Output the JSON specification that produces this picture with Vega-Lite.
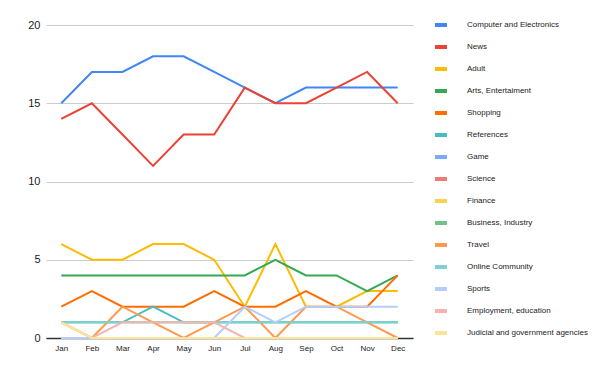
{
  "$schema": "https://vega.github.io/schema/vega-lite/v6.json",
  "autosize": "none",
  "width": 367,
  "height": 313,
  "padding": {"left": 46, "top": 25, "right": 187, "bottom": 33},
  "background": "white",
  "config": {"view": {"stroke": null}, "font": "Liberation Sans"},
  "data": {"values": [
    {"m":"Jan","c":"Computer and Electronics","v":15},{"m":"Feb","c":"Computer and Electronics","v":17},{"m":"Mar","c":"Computer and Electronics","v":17},{"m":"Apr","c":"Computer and Electronics","v":18},{"m":"May","c":"Computer and Electronics","v":18},{"m":"Jun","c":"Computer and Electronics","v":17},{"m":"Jul","c":"Computer and Electronics","v":16},{"m":"Aug","c":"Computer and Electronics","v":15},{"m":"Sep","c":"Computer and Electronics","v":16},{"m":"Oct","c":"Computer and Electronics","v":16},{"m":"Nov","c":"Computer and Electronics","v":16},{"m":"Dec","c":"Computer and Electronics","v":16},
    {"m":"Jan","c":"News","v":14},{"m":"Feb","c":"News","v":15},{"m":"Mar","c":"News","v":13},{"m":"Apr","c":"News","v":11},{"m":"May","c":"News","v":13},{"m":"Jun","c":"News","v":13},{"m":"Jul","c":"News","v":16},{"m":"Aug","c":"News","v":15},{"m":"Sep","c":"News","v":15},{"m":"Oct","c":"News","v":16},{"m":"Nov","c":"News","v":17},{"m":"Dec","c":"News","v":15},
    {"m":"Jan","c":"Adult","v":6},{"m":"Feb","c":"Adult","v":5},{"m":"Mar","c":"Adult","v":5},{"m":"Apr","c":"Adult","v":6},{"m":"May","c":"Adult","v":6},{"m":"Jun","c":"Adult","v":5},{"m":"Jul","c":"Adult","v":2},{"m":"Aug","c":"Adult","v":6},{"m":"Sep","c":"Adult","v":2},{"m":"Oct","c":"Adult","v":2},{"m":"Nov","c":"Adult","v":3},{"m":"Dec","c":"Adult","v":3},
    {"m":"Jan","c":"Arts, Entertaiment","v":4},{"m":"Feb","c":"Arts, Entertaiment","v":4},{"m":"Mar","c":"Arts, Entertaiment","v":4},{"m":"Apr","c":"Arts, Entertaiment","v":4},{"m":"May","c":"Arts, Entertaiment","v":4},{"m":"Jun","c":"Arts, Entertaiment","v":4},{"m":"Jul","c":"Arts, Entertaiment","v":4},{"m":"Aug","c":"Arts, Entertaiment","v":5},{"m":"Sep","c":"Arts, Entertaiment","v":4},{"m":"Oct","c":"Arts, Entertaiment","v":4},{"m":"Nov","c":"Arts, Entertaiment","v":3},{"m":"Dec","c":"Arts, Entertaiment","v":4},
    {"m":"Jan","c":"Shopping","v":2},{"m":"Feb","c":"Shopping","v":3},{"m":"Mar","c":"Shopping","v":2},{"m":"Apr","c":"Shopping","v":2},{"m":"May","c":"Shopping","v":2},{"m":"Jun","c":"Shopping","v":3},{"m":"Jul","c":"Shopping","v":2},{"m":"Aug","c":"Shopping","v":2},{"m":"Sep","c":"Shopping","v":3},{"m":"Oct","c":"Shopping","v":2},{"m":"Nov","c":"Shopping","v":2},{"m":"Dec","c":"Shopping","v":4},
    {"m":"Jan","c":"References","v":1},{"m":"Feb","c":"References","v":1},{"m":"Mar","c":"References","v":1},{"m":"Apr","c":"References","v":2},{"m":"May","c":"References","v":1},{"m":"Jun","c":"References","v":1},{"m":"Jul","c":"References","v":1},{"m":"Aug","c":"References","v":1},{"m":"Sep","c":"References","v":1},{"m":"Oct","c":"References","v":1},{"m":"Nov","c":"References","v":1},{"m":"Dec","c":"References","v":1},
    {"m":"Jan","c":"Game","v":0},{"m":"Feb","c":"Game","v":0},{"m":"Mar","c":"Game","v":0},{"m":"Apr","c":"Game","v":0},{"m":"May","c":"Game","v":0},{"m":"Jun","c":"Game","v":0},{"m":"Jul","c":"Game","v":0},{"m":"Aug","c":"Game","v":0},{"m":"Sep","c":"Game","v":0},{"m":"Oct","c":"Game","v":0},{"m":"Nov","c":"Game","v":0},{"m":"Dec","c":"Game","v":0},
    {"m":"Jan","c":"Science","v":0},{"m":"Feb","c":"Science","v":0},{"m":"Mar","c":"Science","v":0},{"m":"Apr","c":"Science","v":0},{"m":"May","c":"Science","v":0},{"m":"Jun","c":"Science","v":0},{"m":"Jul","c":"Science","v":0},{"m":"Aug","c":"Science","v":0},{"m":"Sep","c":"Science","v":0},{"m":"Oct","c":"Science","v":0},{"m":"Nov","c":"Science","v":0},{"m":"Dec","c":"Science","v":0},
    {"m":"Jan","c":"Finance","v":0},{"m":"Feb","c":"Finance","v":0},{"m":"Mar","c":"Finance","v":0},{"m":"Apr","c":"Finance","v":0},{"m":"May","c":"Finance","v":0},{"m":"Jun","c":"Finance","v":0},{"m":"Jul","c":"Finance","v":0},{"m":"Aug","c":"Finance","v":0},{"m":"Sep","c":"Finance","v":0},{"m":"Oct","c":"Finance","v":0},{"m":"Nov","c":"Finance","v":0},{"m":"Dec","c":"Finance","v":0},
    {"m":"Jan","c":"Business, Industry","v":1},{"m":"Feb","c":"Business, Industry","v":1},{"m":"Mar","c":"Business, Industry","v":1},{"m":"Apr","c":"Business, Industry","v":1},{"m":"May","c":"Business, Industry","v":1},{"m":"Jun","c":"Business, Industry","v":1},{"m":"Jul","c":"Business, Industry","v":1},{"m":"Aug","c":"Business, Industry","v":1},{"m":"Sep","c":"Business, Industry","v":1},{"m":"Oct","c":"Business, Industry","v":1},{"m":"Nov","c":"Business, Industry","v":1},{"m":"Dec","c":"Business, Industry","v":1},
    {"m":"Jan","c":"Travel","v":1},{"m":"Feb","c":"Travel","v":0},{"m":"Mar","c":"Travel","v":2},{"m":"Apr","c":"Travel","v":1},{"m":"May","c":"Travel","v":0},{"m":"Jun","c":"Travel","v":1},{"m":"Jul","c":"Travel","v":2},{"m":"Aug","c":"Travel","v":0},{"m":"Sep","c":"Travel","v":2},{"m":"Oct","c":"Travel","v":2},{"m":"Nov","c":"Travel","v":1},{"m":"Dec","c":"Travel","v":0},
    {"m":"Jan","c":"Online Community","v":1},{"m":"Feb","c":"Online Community","v":1},{"m":"Mar","c":"Online Community","v":1},{"m":"Apr","c":"Online Community","v":1},{"m":"May","c":"Online Community","v":1},{"m":"Jun","c":"Online Community","v":1},{"m":"Jul","c":"Online Community","v":1},{"m":"Aug","c":"Online Community","v":1},{"m":"Sep","c":"Online Community","v":1},{"m":"Oct","c":"Online Community","v":1},{"m":"Nov","c":"Online Community","v":1},{"m":"Dec","c":"Online Community","v":1},
    {"m":"Jan","c":"Sports","v":0},{"m":"Feb","c":"Sports","v":0},{"m":"Mar","c":"Sports","v":0},{"m":"Apr","c":"Sports","v":0},{"m":"May","c":"Sports","v":0},{"m":"Jun","c":"Sports","v":0},{"m":"Jul","c":"Sports","v":2},{"m":"Aug","c":"Sports","v":1},{"m":"Sep","c":"Sports","v":2},{"m":"Oct","c":"Sports","v":2},{"m":"Nov","c":"Sports","v":2},{"m":"Dec","c":"Sports","v":2},
    {"m":"Jan","c":"Employment, education","v":1},{"m":"Feb","c":"Employment, education","v":0},{"m":"Mar","c":"Employment, education","v":1},{"m":"Apr","c":"Employment, education","v":1},{"m":"May","c":"Employment, education","v":1},{"m":"Jun","c":"Employment, education","v":1},{"m":"Jul","c":"Employment, education","v":0},{"m":"Aug","c":"Employment, education","v":0},{"m":"Sep","c":"Employment, education","v":0},{"m":"Oct","c":"Employment, education","v":0},{"m":"Nov","c":"Employment, education","v":0},{"m":"Dec","c":"Employment, education","v":0},
    {"m":"Jan","c":"Judicial and government agencies","v":1},{"m":"Feb","c":"Judicial and government agencies","v":0},{"m":"Mar","c":"Judicial and government agencies","v":0},{"m":"Apr","c":"Judicial and government agencies","v":0},{"m":"May","c":"Judicial and government agencies","v":0},{"m":"Jun","c":"Judicial and government agencies","v":0},{"m":"Jul","c":"Judicial and government agencies","v":0},{"m":"Aug","c":"Judicial and government agencies","v":0},{"m":"Sep","c":"Judicial and government agencies","v":0},{"m":"Oct","c":"Judicial and government agencies","v":0},{"m":"Nov","c":"Judicial and government agencies","v":0},{"m":"Dec","c":"Judicial and government agencies","v":0}
  ]},
  "mark": {"type": "line", "strokeWidth": 2, "strokeJoin": "miter", "clip": false},
  "encoding": {
    "x": {
      "field": "m", "type": "ordinal",
      "scale": {"type": "point", "padding": 0.5, "domain": ["Jan","Feb","Mar","Apr","May","Jun","Jul","Aug","Sep","Oct","Nov","Dec"]},
      "axis": {"title": null, "labelAngle": 0, "ticks": false, "domainColor": "#333333", "domainWidth": 1.5, "labelFontSize": 8, "labelColor": "#222222", "labelPadding": 6, "grid": false}
    },
    "y": {
      "field": "v", "type": "quantitative",
      "scale": {"domain": [0, 20]},
      "axis": {"title": null, "values": [0,5,10,15,20], "ticks": false, "domain": false, "gridColor": "#cccccc", "labelFontSize": 11, "labelColor": "#222222", "labelPadding": 6}
    },
    "color": {
      "field": "c", "type": "nominal",
      "scale": {
        "domain": ["Computer and Electronics","News","Adult","Arts, Entertaiment","Shopping","References","Game","Science","Finance","Business, Industry","Travel","Online Community","Sports","Employment, education","Judicial and government agencies"],
        "range": ["#4285f4","#ea4335","#fbbc04","#34a853","#ff6d01","#46bdc6","#7baaf7","#f07b72","#fcd04f","#71c287","#ff994d","#7ed1d7","#b3cefb","#f7b4ae","#fde49b"]
      },
      "legend": {
        "title": null, "orient": "none", "legendX": 387, "legendY": -8,
        "symbolType": "stroke", "symbolSize": 144, "symbolStrokeWidth": 4,
        "labelFontSize": 8, "labelColor": "#222222", "labelOffset": 18,
        "rowPadding": 6, "labelLimit": 200
      }
    }
  }
}
